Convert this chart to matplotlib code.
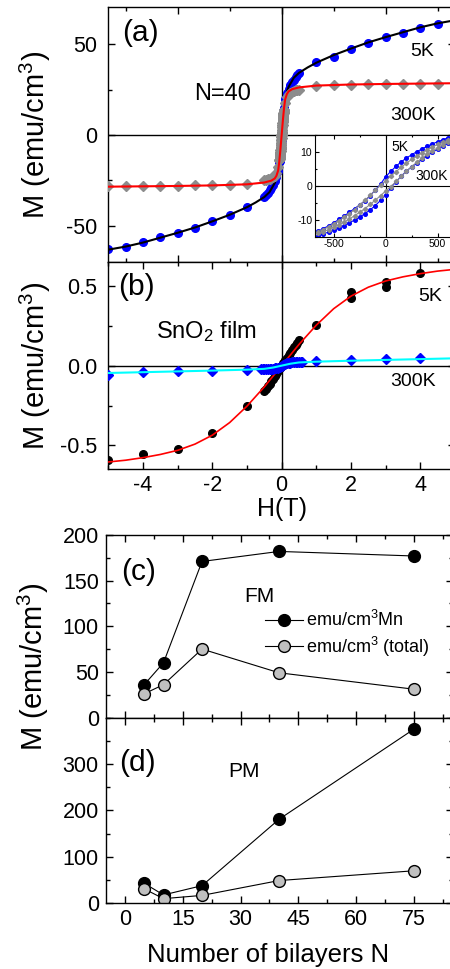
import numpy as np
import matplotlib
matplotlib.use("Agg")
import matplotlib.pyplot as plt
from matplotlib.ticker import MultipleLocator, FormatStrFormatter

plt.rcParams['font.family'] = ['Liberation Sans', 'DejaVu Sans']
plt.rcParams['mathtext.fontset'] = 'custom'
plt.rcParams['mathtext.rm'] = 'Liberation Sans'
plt.rcParams['mathtext.it'] = 'Liberation Sans:italic'
plt.rcParams['axes.unicode_minus'] = False
plt.rcParams['xtick.direction'] = 'in'
plt.rcParams['ytick.direction'] = 'in'

# (a) N=40 multilayer, M(H) at 5K and 300K, H in T
h5_a = [-5, -4.5, -4, -3.5, -3, -2.5, -2, -1.5, -1, 1, 1.5, 2, 2.5, 3, 3.5, 4, 4.5, 5]
m5_a = [-63.0, -61.6, -59.2, -56.4, -53.9, -51.1, -47.4, -44.1, -39.9,
        40.1, 43.2, 47.4, 50.9, 53.9, 56.4, 59.0, 61.2, 63.0]
h_clu = [-0.5, -0.45, -0.4, -0.35, -0.3, -0.25, -0.2, -0.15, -0.1,
         0.1, 0.15, 0.2, 0.25, 0.3, 0.35, 0.4, 0.45, 0.5]
m5_clu = [-34.0, -33.0, -31.8, -30.5, -29.0, -27.3, -25.3, -23.0, -20.0,
          20.0, 23.0, 25.3, 27.3, 29.0, 30.5, 31.8, 33.0, 34.0]
m300_clu = [-25.0, -24.8, -24.5, -24.2, -23.8, -23.2, -22.4, -21.0, -17.5,
            17.5, 21.0, 22.4, 23.2, 23.8, 24.2, 24.5, 24.8, 25.0]
h300_a = [-5, -4.5, -4, -3.5, -3, -2.5, -2, -1.5, -1, 1, 1.5, 2, 2.5, 3, 3.5, 4, 4.5, 5]
m300_a = [-28.3, -28.2, -28.1, -28.0, -27.9, -27.8, -27.6, -27.4, -27.1,
          27.1, 27.4, 27.6, 27.8, 27.9, 28.0, 28.1, 28.2, 28.3]

# fit curves in (a)
hfit5_a = [-5, -4.5, -4, -3.5, -3, -2.5, -2, -1.5, -1, -0.75, -0.5, -0.35, -0.2, -0.12, -0.07, -0.04, 0,
           0.04, 0.07, 0.12, 0.2, 0.35, 0.5, 0.75, 1, 1.5, 2, 2.5, 3, 3.5, 4, 4.5, 5]
mfit5_a = [-63.2, -61.5, -59.3, -56.6, -53.9, -51.0, -47.6, -44.0, -39.8, -37.2, -34.2, -31.5, -26.5, -22.0, -17.0, -11.0, 0,
           11.0, 17.0, 22.0, 26.5, 31.5, 34.2, 37.2, 39.8, 44.0, 47.6, 51.0, 53.9, 56.6, 59.3, 61.5, 63.2]
hfit300_a = [-5, -4, -3, -2, -1, -0.5, -0.3, -0.2, -0.15, -0.1, -0.07, -0.04, 0,
             0.04, 0.07, 0.1, 0.15, 0.2, 0.3, 0.5, 1, 2, 3, 4, 5]
mfit300_a = [-28.5, -28.3, -28.1, -27.8, -27.2, -26.2, -25.2, -24.0, -22.5, -19.5, -15.0, -9.0, 0,
             9.0, 15.0, 19.5, 22.5, 24.0, 25.2, 26.2, 27.2, 27.8, 28.1, 28.3, 28.5]

# inset: low-field loops, H in Oe
h_loop = [-650, -600, -550, -500, -450, -400, -350, -300, -250, -200, -150, -100, -50, 0,
          50, 100, 150, 200, 250, 300, 350, 400, 450, 500, 550, 600, 650]
m5_down = [-13.4, -12.6, -11.8, -10.9, -9.9, -8.9, -7.8, -6.7, -5.6, -4.4, -2.9, -1.2, 0.5, 2.7,
           4.3, 5.8, 7.1, 8.2, 9.2, 10.1, 10.9, 11.7, 12.4, 13.0, 13.6, 14.2, 14.7]
m5_up = [-14.7, -14.2, -13.6, -13.0, -12.4, -11.7, -10.9, -10.1, -9.2, -8.2, -7.1, -5.8, -4.3, -2.7,
         -0.5, 1.2, 2.9, 4.4, 5.6, 6.7, 7.8, 8.9, 9.9, 10.9, 11.8, 12.6, 13.4]
m300_down = [-13.6, -12.9, -12.1, -11.2, -10.3, -9.3, -8.2, -7.0, -5.7, -4.3, -2.8, -1.3, 0.2, 1.5,
             2.9, 4.2, 5.5, 6.7, 7.8, 8.8, 9.8, 10.7, 11.5, 12.2, 12.9, 13.5, 14.0]
m300_up = [-14.0, -13.5, -12.9, -12.2, -11.5, -10.7, -9.8, -8.8, -7.8, -6.7, -5.5, -4.2, -2.9, -1.5,
           -0.2, 1.3, 2.8, 4.3, 5.7, 7.0, 8.2, 9.3, 10.3, 11.2, 12.1, 12.9, 13.6]

# (b) SnO2 film
h5_b = [-5, -4, -3, -2, -1, 1, 2, 2, 3, 3, 4]
m5_b = [-0.592, -0.556, -0.521, -0.421, -0.254, 0.256, 0.465, 0.427, 0.523, 0.496, 0.583]
hclu_b = [-0.5, -0.45, -0.4, -0.35, -0.3, -0.25, -0.2, -0.15, -0.1, -0.05, 0,
          0.05, 0.1, 0.15, 0.2, 0.25, 0.3, 0.35, 0.4, 0.45, 0.5]
m5clu_b = [-0.160, -0.145, -0.130, -0.114, -0.098, -0.082, -0.066, -0.050, -0.034, -0.017, 0.0,
           0.017, 0.034, 0.050, 0.066, 0.082, 0.098, 0.114, 0.130, 0.145, 0.160]
h300_b = [-5, -4, -3, -2, -1, 1, 2, 3, 4, 5]
m300_b = [-0.056, -0.042, -0.031, -0.031, -0.029, 0.027, 0.0375, 0.042, 0.048, 0.052]
h300clu_b = [-0.6, -0.55, -0.5, -0.45, -0.4, -0.35, -0.3, -0.25, -0.2, -0.15, -0.1, -0.05, 0,
             0.05, 0.1, 0.15, 0.2, 0.25, 0.3, 0.35, 0.4, 0.45, 0.5, 0.55, 0.6]
m300clu_b = [-0.024, -0.024, -0.023, -0.023, -0.022, -0.021, -0.020, -0.019, -0.017, -0.015, -0.012, -0.007, 0.0,
             0.007, 0.012, 0.015, 0.017, 0.019, 0.020, 0.021, 0.022, 0.023, 0.023, 0.024, 0.024]
hfit5_b = [-5, -4.5, -4, -3.5, -3, -2.5, -2, -1.5, -1, -0.5, 0, 0.5, 1, 1.5, 2, 2.5, 3, 3.5, 4, 4.5, 5]
mfit5_b = [-0.604, -0.593, -0.577, -0.557, -0.531, -0.492, -0.436, -0.357, -0.254, -0.133, 0,
           0.133, 0.254, 0.357, 0.436, 0.492, 0.531, 0.557, 0.577, 0.593, 0.604]
hfit300_b = [-5, -4, -3, -2, -1, -0.5, -0.25, 0, 0.25, 0.5, 1, 2, 3, 4, 5]
mfit300_b = [-0.046, -0.041, -0.036, -0.031, -0.025, -0.020, -0.012, 0, 0.012, 0.020, 0.025, 0.031, 0.036, 0.041, 0.046]

# (c), (d) vs number of bilayers
n_bil = [5, 10, 20, 40, 75]
fm_mn = [36, 60, 171, 182, 177]
fm_tot = [26, 36, 75, 49, 31]
pm_mn = [43, 18, 38, 181, 375]
pm_tot = [31, 10, 17, 49, 70]

W, H = 450.0, 969.0


def box(x0, y0, x1, y1):
    return [x0 / W, 1 - y1 / H, (x1 - x0) / W, (y1 - y0) / H]


def style(ax, pad_x=6, pad_y=8, size=15.5):
    for s in ax.spines.values():
        s.set_linewidth(1.0)
    ax.tick_params(which='both', top=True, right=True, width=1.0, labelsize=size)
    ax.tick_params(which='major', length=5)
    ax.tick_params(which='minor', length=3)
    ax.tick_params(axis='x', pad=pad_x)
    ax.tick_params(axis='y', pad=pad_y)


fig = plt.figure(figsize=(4.5, 9.69), dpi=100)

# ---- (a)
ax_a = fig.add_axes(box(108.3, 7, 455, 262))
ax_a.axhline(0, color='k', lw=1.0, zorder=1)
ax_a.axvline(0, color='k', lw=1.0, zorder=1)
ax_a.plot(h5_a, m5_a, 'o', color='#0000ff', ms=5.5, zorder=2)
ax_a.plot(h_clu, m5_clu, 'o', color='#0000ff', ms=5.5, zorder=2)
ax_a.plot(np.array(h_loop) / 1e4, m5_down, 'o', color='#0000ff', ms=5.5, zorder=2)
ax_a.plot(np.array(h_loop) / 1e4, m5_up, 'o', color='#0000ff', ms=5.5, zorder=2)
ax_a.plot(hfit5_a, mfit5_a, '-', color='k', lw=1.5, zorder=3)
ax_a.plot(h300_a, m300_a, 'D', color='#8c8c8c', ms=5, zorder=4)
ax_a.plot(h_clu, m300_clu, 'D', color='#8c8c8c', ms=5, zorder=4)
ax_a.plot(np.array(h_loop) / 1e4, m300_down, 'D', color='#8c8c8c', ms=5, zorder=4)
ax_a.plot(np.array(h_loop) / 1e4, m300_up, 'D', color='#8c8c8c', ms=5, zorder=4)
ax_a.plot(hfit300_a, mfit300_a, '-', color='#ff0000', lw=1.5, zorder=5)
ax_a.set_xlim(-5, 5)
ax_a.set_ylim(-70, 70.5)
ax_a.xaxis.set_major_locator(MultipleLocator(3))
ax_a.xaxis.set_minor_locator(MultipleLocator(1.5))
ax_a.yaxis.set_major_locator(MultipleLocator(50))
ax_a.yaxis.set_minor_locator(MultipleLocator(25))
style(ax_a)
ax_a.tick_params(labelbottom=False)

# inset
ax_in = fig.add_axes(box(315, 135, 456.4, 236.7))
ax_in.axhline(0, color='k', lw=0.8)
ax_in.axvline(0, color='k', lw=0.8)
ax_in.plot(h_loop, m5_down, '-o', color='#0000ff', lw=0.8, ms=2.6)
ax_in.plot(h_loop, m5_up, '-o', color='#0000ff', lw=0.8, ms=2.6)
ax_in.plot(h_loop, m300_down, '-D', color='#8c8c8c', lw=0.8, ms=2.2)
ax_in.plot(h_loop, m300_up, '-D', color='#8c8c8c', lw=0.8, ms=2.2)
ax_in.set_xlim(-680, 680)
ax_in.set_ylim(-15, 15)
ax_in.xaxis.set_major_locator(MultipleLocator(500))
ax_in.xaxis.set_minor_locator(MultipleLocator(250))
ax_in.yaxis.set_major_locator(MultipleLocator(10))
ax_in.yaxis.set_minor_locator(MultipleLocator(5))
for s in ax_in.spines.values():
    s.set_linewidth(0.8)
ax_in.tick_params(which='both', top=True, right=True, width=0.8, labelsize=7.5, pad=2)
ax_in.tick_params(which='major', length=3)
ax_in.tick_params(which='minor', length=1.5)

# ---- (b)
ax_b = fig.add_axes(box(108.3, 262, 455, 469.3))
ax_b.axhline(0, color='k', lw=1.0, zorder=1)
ax_b.axvline(0, color='k', lw=1.0, zorder=1)
ax_b.plot(h5_b, m5_b, 'o', color='k', ms=5.5, zorder=2)
ax_b.plot(hclu_b, m5clu_b, 'o', color='k', ms=5.5, zorder=2)
ax_b.plot(hfit5_b, mfit5_b, '-', color='#ff0000', lw=1.2, zorder=3)
ax_b.plot(h300_b, m300_b, 'D', color='#0000ff', ms=5, zorder=4)
ax_b.plot(h300clu_b, m300clu_b, 'D', color='#0000ff', ms=5, zorder=4)
ax_b.plot(hfit300_b, mfit300_b, '-', color='#00ffff', lw=1.5, zorder=5)
ax_b.set_xlim(-5, 5)
ax_b.set_ylim(-0.65, 0.65)
ax_b.xaxis.set_major_locator(MultipleLocator(2))
ax_b.xaxis.set_minor_locator(MultipleLocator(1))
ax_b.yaxis.set_major_locator(MultipleLocator(0.5))
ax_b.yaxis.set_minor_locator(MultipleLocator(0.25))
ax_b.yaxis.set_major_formatter(FormatStrFormatter('%.1f'))
style(ax_b, pad_x=4)

# ---- (c)
ax_c = fig.add_axes(box(105.7, 535, 452.5, 717.5))
ax_c.plot(n_bil, fm_mn, '-o', color='k', mfc='k', mec='k', lw=0.8, ms=8.5, label='emu/cm$^3$Mn')
ax_c.plot(n_bil, fm_tot, '-o', color='k', mfc='#c0c0c0', mec='k', lw=0.8, ms=8.5, label='emu/cm$^3$ (total)')
ax_c.set_xlim(-5, 85)
ax_c.set_ylim(0, 200)
ax_c.xaxis.set_major_locator(MultipleLocator(15))
ax_c.xaxis.set_minor_locator(MultipleLocator(7.5))
ax_c.yaxis.set_major_locator(MultipleLocator(50))
ax_c.yaxis.set_minor_locator(MultipleLocator(25))
style(ax_c, pad_y=5)
ax_c.tick_params(labelbottom=False)
ax_c.legend(loc='upper left', bbox_to_anchor=(0.459, 0.59), frameon=False, fontsize=13,
            handlelength=2.1, handletextpad=0.2, labelspacing=0.25, borderpad=0, borderaxespad=0)

# ---- (d)
ax_d = fig.add_axes(box(105.7, 717.5, 452.5, 903.3))
ax_d.plot(n_bil, pm_mn, '-o', color='k', mfc='k', mec='k', lw=0.8, ms=8.5)
ax_d.plot(n_bil, pm_tot, '-o', color='k', mfc='#c0c0c0', mec='k', lw=0.8, ms=8.5)
ax_d.set_xlim(-5, 85)
ax_d.set_ylim(0, 400)
ax_d.xaxis.set_major_locator(MultipleLocator(15))
ax_d.xaxis.set_minor_locator(MultipleLocator(7.5))
ax_d.set_yticks([0, 100, 200, 300])
ax_d.yaxis.set_minor_locator(MultipleLocator(50))
style(ax_d, pad_x=4, pad_y=5)

# labels
def ftext(x, y, s, **kw):
    fig.text(x / W, 1 - y / H, s, ha='center', va='center', **kw)

ylab = 'M (emu/cm$^3$)'
ftext(35, 134.5, ylab, fontsize=21, rotation=90)
ftext(35, 365.7, ylab, fontsize=21, rotation=90)
ftext(33, 667, ylab, fontsize=21, rotation=90)
ftext(281.7, 509, 'H(T)', fontsize=18)
ftext(268.3, 955, 'Number of bilayers N', fontsize=18.5)

ftext(140, 33, '(a)', fontsize=21.5)
ftext(222.5, 94.3, 'N=40', fontsize=17)
ftext(421.7, 51.7, '5K', fontsize=14)
ftext(413, 115, '300K', fontsize=14)
ftext(400, 147.3, '5K', fontsize=10, zorder=10)
ftext(431.7, 176, '300K', fontsize=10, zorder=10)

ftext(136, 286.7, '(b)', fontsize=21.5)
ftext(207, 331.7, 'SnO$_2$ film', fontsize=17)
ftext(430.5, 296.7, '5K', fontsize=14)
ftext(413.5, 381.7, '300K', fontsize=14)

ftext(138.3, 571.7, '(c)', fontsize=21.5)
ftext(259, 596.7, 'FM', fontsize=15)
ftext(137.5, 763.3, '(d)', fontsize=21.5)
ftext(243.5, 771.7, 'PM', fontsize=15)

fig.savefig('out.png', dpi=100)
